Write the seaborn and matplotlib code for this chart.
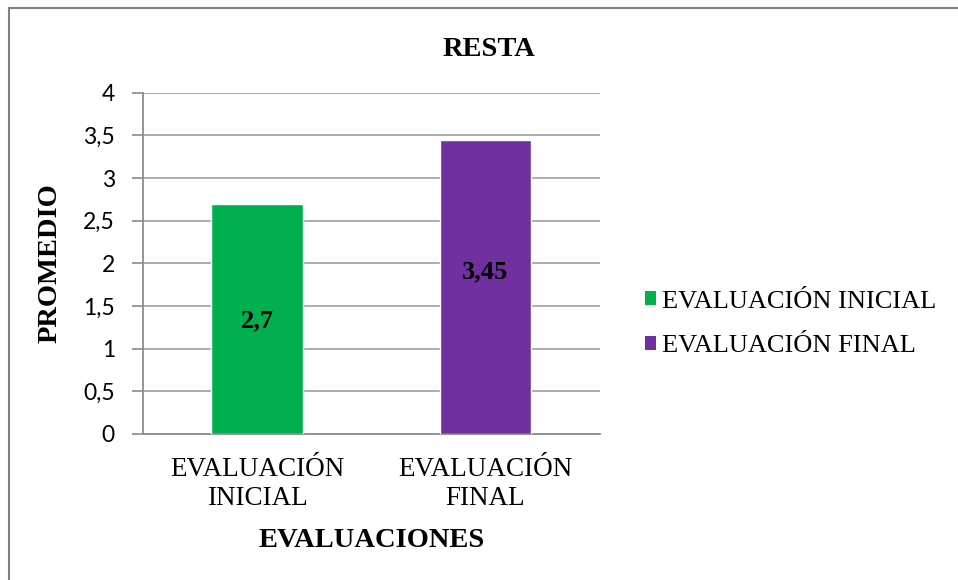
import pandas as pd
import numpy as np
import matplotlib.pyplot as plt
import seaborn as sns
from matplotlib.lines import Line2D
from matplotlib.patches import Patch

# ---- Data ----
categories = ["EVALUACIÓN\nINICIAL", "EVALUACIÓN\nFINAL"]
legend_names = ["EVALUACIÓN INICIAL", "EVALUACIÓN FINAL"]
promedios = [2.7, 3.45]
value_labels = ["2,7", "3,45"]
y_ticks = [0, 0.5, 1, 1.5, 2, 2.5, 3, 3.5, 4]
y_tick_labels = ["0", "0,5", "1", "1,5", "2", "2,5", "3", "3,5", "4"]
colors = ["#00B050", "#7030A0"]

df = pd.DataFrame({"evaluacion": categories, "promedio": promedios})

sns.set_style("white")
plt.rcParams.update({"text.color": "black", "axes.labelcolor": "black",
                     "xtick.labelcolor": "black", "ytick.labelcolor": "black"})
serif = ["Liberation Serif", "DejaVu Serif"]
sans = ["Lato", "DejaVu Sans"]

fig = plt.figure(figsize=(9.58, 5.8), dpi=100)
ax = fig.add_axes([0.149, 0.252, 0.477, 0.588])

sns.barplot(data=df, x="evaluacion", y="promedio", hue="evaluacion",
            palette=colors, saturation=1, width=0.4, legend=False, ax=ax, zorder=3)

ax.set_ylim(0, 4)
ax.set_yticks(y_ticks)
ax.set_yticklabels(y_tick_labels, fontfamily=sans, fontsize=16.5, color="black")
ax.set_xticks(range(len(categories)))
ax.set_xticklabels(categories, fontfamily=serif, fontsize=19.5, linespacing=1.22, color="black")
ax.tick_params(axis="y", length=8, width=1.2, color="#8C8C8C", pad=12, left=True)
ax.tick_params(axis="x", length=0, pad=16.5)
ax.yaxis.grid(True, color="#A6A6A6", linewidth=1.3, zorder=0)
ax.set_axisbelow(True)
for s in ["top", "right"]:
    ax.spines[s].set_visible(False)
for s in ["left", "bottom"]:
    ax.spines[s].set_color("#8C8C8C")
    ax.spines[s].set_linewidth(1.3)

ax.set_xlabel("EVALUACIONES", fontfamily=serif, fontsize=20.5, fontweight="bold",
              labelpad=12, color="black")
ax.set_ylabel("PROMEDIO", fontfamily=serif, fontsize=20.5, fontweight="bold",
              labelpad=15, color="black")

# value labels inside bars
label_y = [1.32, 1.9]
for i, (lab, yy) in enumerate(zip(value_labels, label_y)):
    ax.text(i, yy, lab, ha="center", va="center", fontfamily=serif,
            fontsize=19, fontweight="bold", color="black", zorder=5)

fig.text(489 / 958, 1 - 50 / 580, "RESTA", ha="center", va="center",
         fontfamily=serif, fontsize=20.5, fontweight="bold", color="black")

handles = [Patch(facecolor=c, edgecolor="none") for c in colors]
leg = fig.legend(handles, legend_names, loc="center left",
                 bbox_to_anchor=(0.648, 1 - 324 / 580), frameon=False,
                 prop={"family": serif, "size": 19}, handlelength=0.45,
                 handleheight=0.45, handletextpad=0.2, labelspacing=0.85)
for t in leg.get_texts():
    t.set_color("black")

# chart frame (left and top edges visible)
fig.add_artist(Line2D([8.5 / 958, 8.5 / 958], [0, 1 - 7.5 / 580], color="#808080", lw=1.5))
fig.add_artist(Line2D([8.5 / 958, 1], [1 - 7.5 / 580, 1 - 7.5 / 580], color="#808080", lw=1.5))

fig.savefig("out.png", dpi=100)
